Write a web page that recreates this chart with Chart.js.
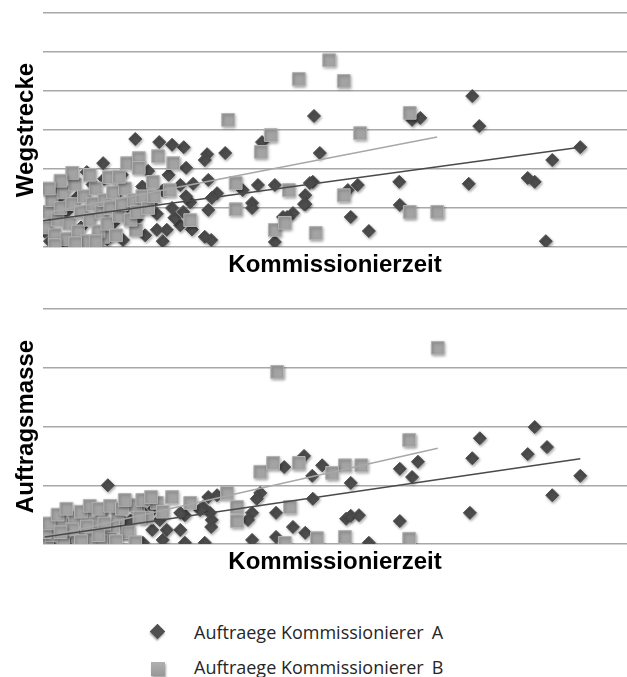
<!DOCTYPE html>
<html>
<head>
<meta charset="utf-8">
<script src="https://cdn.jsdelivr.net/npm/chart.js@4/dist/chart.umd.min.js"></script>
<style>
  html, body { margin: 0; padding: 0; background: #fff; }
  body { width: 627px; height: 677px; position: relative; overflow: hidden; }
  .box { position: absolute; left: 0; width: 627px; }
  #box1 { top: 0; height: 285px; }
  #box2 { top: 285px; height: 300px; }
  .leg { position: absolute; left: 0; width: 627px; height: 20px;
         font-family: "Open Sans", sans-serif; font-size: 18px; color: #262626; white-space: pre; }
  .leg span.txt { position: absolute; left: 194px; top: 50%; transform: translateY(-50%); }
  .leg span.last { margin-left: 8px; }
  .mk { position: absolute; box-shadow: 1px 1.5px 2px rgba(0,0,0,0.35); }
  .dia { width: 11px; height: 11px; background: #4f4f4f; left: 152px; top: 4px; transform: rotate(45deg); }
  .sq { width: 14px; height: 14px; background: linear-gradient(#b0b0b0, #979797); left: 151px; top: 5px; }
</style>
</head>
<body>
<div class="box" id="box1"><canvas id="chartTop" width="627" height="285"></canvas></div>
<div class="box" id="box2"><canvas id="chartBottom" width="627" height="300"></canvas></div>

<div class="leg" style="top:622px"><div class="mk dia"></div><span class="txt">Auftraege Kommissionierer<span class="last">A</span></span></div>
<div class="leg" style="top:657px"><div class="mk sq"></div><span class="txt">Auftraege Kommissionierer<span class="last">B</span></span></div>

<script>
// Kommissionierzeit (x) vs Wegstrecke (top) / Auftragsmasse (bottom)
const seriesNames = ['Auftraege Kommissionierer A', 'Auftraege Kommissionierer B'];

const topA = [
  [73.5,3.87],[74.7,3.10],[92.0,2.56],[87.2,2.23],[83.0,1.77],[84.2,1.67],[72.9,1.62],[86.1,0.15],
  [63.2,3.26],[64.6,3.31],[46.4,3.36],[47.4,2.41],[46.2,1.67],[61.0,1.67],[53.9,1.59],[52.2,1.46],
  [44.9,1.33],[44.9,1.10],[61.1,1.08],[52.7,0.77],[55.8,0.41],
  [37.5,2.69],[24.1,2.56],[28.1,2.38],[27.7,2.23],[31.2,2.41],[24.5,2.03],[23.5,1.59],[25.7,1.62],
  [28.3,1.72],[36.8,1.59],[39.7,1.59],[45.7,1.64],[34.2,1.46],[29.8,1.38],[28.9,1.26],[25.2,1.15],
  [28.3,0.95],[35.8,1.13],[35.8,1.00],[44.7,1.10],[42.8,0.87],[41.1,0.77],[41.8,0.77],[27.7,0.26],
  [28.8,0.18],[39.7,0.13],
  [15.8,2.77],[19.9,2.69],[22.1,2.62],[10.3,2.15],[7.5,1.92],[13.5,1.85],[0.9,1.41],[2.4,1.46],
  [13.7,0.18],[22.1,1.00],[19.5,0.44],[21.2,0.44],[23.5,0.56],
  [0.3,0.4],[1.2,0.15],[3.0,0.1],[5.0,0.08],[7.0,0.12],[9.0,0.1],[11.0,0.2],[1.5,0.8],[4.0,0.9],
  [6.0,1.3],[8.5,1.6],[10.5,1.75],[12.5,1.35],[14.5,1.05],[16.0,0.7],[17.0,1.55],[18.5,1.1],
  [19.5,0.85],[20.5,1.45],[21.5,1.85],[22.5,0.75],[24.5,1.3],[18.0,1.95],[12.0,0.6],[6.5,0.5],
  [3.0,1.3],[20.5,0.15],[17.5,0.3],[24.0,0.9],[25.5,0.45]
];
const topB = [
  [49.0,4.79],[43.8,4.31],[51.5,4.26],[31.7,3.26],[62.8,3.44],[39.0,2.87],[37.3,2.44],[54.3,2.92],
  [33.0,1.64],[42.1,1.46],[51.5,1.33],[33.0,0.97],[62.8,0.90],[67.5,0.90],[46.7,0.36],[39.7,0.44],
  [41.4,0.62],[25.2,0.69],[15.9,0.44],[10.3,0.26],[14.4,2.15],[16.4,2.28],[19.7,2.33],[22.3,2.15],
  [16.4,2.03],[18.8,1.67],[21.7,1.46],[11.3,1.79],
  [0.5,0.5],[1.0,0.9],[1.5,1.2],[2.0,0.3],[2.5,0.7],[3.0,1.0],[3.5,1.4],[4.0,0.2],[4.5,0.6],
  [5.0,1.1],[5.5,1.6],[6.0,0.4],[6.5,0.9],[7.0,1.3],[7.5,0.15],[8.0,0.7],[8.5,1.1],[9.0,1.5],
  [9.5,0.4],[10.0,0.9],[10.5,1.2],[11.0,0.6],[11.5,1.0],[12.0,1.4],[12.5,0.3],[13.0,0.8],
  [13.5,1.1],[14.0,1.5],[15.0,0.7],[15.5,1.2],[16.0,0.9],[17.0,1.3],[18.0,1.0],[19.0,1.3],
  [5.0,1.9],[8.0,1.85],[3.0,1.7],[1.0,1.5],[2.0,0.05],[5.5,0.1],[9.0,0.15],[13.0,1.8]
];
const bottomA = [
  [84.2,1.99],[86.3,1.65],[83.0,1.53],[74.8,1.80],[73.5,1.46],[92.0,1.16],[87.2,0.83],[73.1,0.53],
  [64.2,1.40],[61.1,1.28],[63.2,1.14],[52.7,1.04],[51.9,0.43],[52.7,0.48],[54.1,0.49],[61.1,0.39],
  [55.8,0.02],[44.7,1.50],[41.3,1.31],[47.8,1.34],[46.1,1.16],[46.2,0.77],[37.2,0.87],[36.6,0.77],
  [28.3,0.80],[29.8,0.83],[27.4,0.63],[28.6,0.53],[28.9,0.41],[28.8,0.29],[35.8,0.53],[35.1,0.41],
  [39.9,0.53],[42.8,0.29],[44.9,0.19],[39.9,0.12],[35.8,0.07],[27.7,0.02],[24.3,0.02],[23.5,0.24],
  [24.3,0.49],[11.1,1.00],[26.9,0.58],[23.5,0.53],[20.0,0.41],[21.2,0.24],[18.7,0.24],[17.1,0.02],
  [20.5,0.07],[16.1,0.63],
  [1.0,0.05],[3.0,0.1],[5.0,0.02],[8.0,0.05],[10.0,0.15],[12.0,0.1],[14.0,0.3],[15.0,0.4],
  [13.0,0.45],[9.0,0.3],[17.5,0.5],[19.0,0.6]
];
const bottomB = [
  [67.6,3.34],[40.1,2.93],[62.7,1.77],[51.7,1.34],[54.5,1.34],[49.5,1.21],[37.2,1.23],[39.4,1.38],
  [43.8,1.38],[42.3,0.63],[31.5,0.87],[33.2,0.63],[33.2,0.39],[25.2,0.70],[41.4,0.02],[46.9,0.10],
  [51.7,0.12],[62.7,0.09],[22.1,0.80],[19.5,0.70],[16.3,0.63],[14.4,0.19],
  [7.2,0.49],[10.1,0.53],[12.8,0.44],[15.8,0.66],[4.3,0.32],[2.1,0.24],[0.7,0.07],[6.0,0.12],
  [8.6,0.07],[11.1,0.12],[14.6,0.20],[15.8,0.03],[2.9,0.41],[5.5,0.45],[9.0,0.35],[1.5,0.15],
  [3.5,0.05],[12.0,0.3],[0.3,0.2],[17.8,0.45],
  [1.0,0.35],[2.5,0.5],[4.0,0.6],[5.0,0.25],[6.5,0.55],[7.5,0.3],[8.0,0.65],[9.5,0.6],
  [10.5,0.35],[11.5,0.65],[13.5,0.6],[14.0,0.75],[16.5,0.45],[17.0,0.75],[18.5,0.8],[20.5,0.55],
  [3.0,0.2],[6.5,0.05],[10.0,0.05],[12.5,0.05],[9.5,0.15]
];

// linear trend lines, start and end point
const topTrendA = [[0, 0.67], [92.0, 2.56]];
const topTrendB = [[0.3, 0.87], [67.5, 2.82]];
const bottomTrendA = [[0.3, 0.12], [92.0, 1.45]];
const bottomTrendB = [[0.3, 0.12], [67.6, 1.63]];

const xTitle = 'Kommissionierzeit';

function toXY(arr) {
    return arr.map(p => ({x: p[0], y: p[1]}));
}

// soft drop shadow under the markers only
const markerShadow = {
    id: 'markerShadow',
    beforeDatasetDraw(chart, args) {
        if (!chart.data.datasets[args.index].shadow) return;
        const ctx = chart.ctx;
        ctx.shadowColor = 'rgba(0,0,0,0.35)';
        ctx.shadowBlur = 3;
        ctx.shadowOffsetX = 1;
        ctx.shadowOffsetY = 1.5;
    },
    afterDatasetDraw(chart) {
        const ctx = chart.ctx;
        ctx.shadowColor = 'rgba(0,0,0,0)';
        ctx.shadowBlur = 0;
        ctx.shadowOffsetX = 0;
        ctx.shadowOffsetY = 0;
    }
};

function makeChart(id, dataA, dataB, trendA, trendB, yMax, yTitle, pad) {
    const ctx = document.getElementById(id).getContext('2d');
    return new Chart(ctx, {
        type: 'scatter',
        data: {
            datasets: [
                {
                    label: 'Trend A',
                    data: toXY(trendA),
                    showLine: true,
                    pointRadius: 0,
                    borderColor: '#4a4a4a',
                    borderWidth: 1.5,
                    order: 0
                },
                {
                    label: 'Trend B',
                    data: toXY(trendB),
                    showLine: true,
                    pointRadius: 0,
                    borderColor: '#a8a8a8',
                    borderWidth: 1.5,
                    order: 0
                },
                {
                    label: seriesNames[1],
                    data: toXY(dataB),
                    pointStyle: 'rect',
                    pointRadius: 9,
                    backgroundColor: '#a3a3a3',
                    borderColor: '#b3b3b3',
                    borderWidth: 1,
                    shadow: true,
                    order: 1
                },
                {
                    label: seriesNames[0],
                    data: toXY(dataA),
                    pointStyle: 'rectRot',
                    pointRadius: 6.5,
                    backgroundColor: '#4d4d4d',
                    borderColor: '#4d4d4d',
                    borderWidth: 1,
                    shadow: true,
                    order: 2
                }
            ]
        },
        options: {
            responsive: false,
            animation: false,
            layout: {padding: pad, autoPadding: false},
            plugins: {legend: {display: false}, tooltip: {enabled: false}},
            scales: {
                x: {
                    min: 0, max: 100,
                    grid: {display: false, drawTicks: false},
                    border: {display: false},
                    ticks: {display: false},
                    title: {
                        display: true, text: xTitle, color: '#000',
                        font: {family: '"Liberation Sans", Arial, sans-serif', size: 24, weight: 'bold'},
                        padding: {top: 4, bottom: 0}
                    }
                },
                y: {
                    min: 0, max: yMax,
                    ticks: {display: false, stepSize: 1},
                    grid: {color: '#a8a8a8', lineWidth: 1.5, drawTicks: false},
                    border: {display: false},
                    title: {
                        display: true, text: yTitle, color: '#000',
                        font: {family: '"Liberation Sans", Arial, sans-serif', size: 24, weight: 'bold'},
                        padding: {top: 12, bottom: 2.2}
                    }
                }
            }
        },
        plugins: [markerShadow]
    });
}

makeChart('chartTop', topA, topB, topTrendA, topTrendB, 6, 'Wegstrecke',
    {top: 13, bottom: 5.2, left: 0, right: 0});
makeChart('chartBottom', bottomA, bottomB, bottomTrendA, bottomTrendB, 4, 'Auftragsmasse',
    {top: 24, bottom: 8.2, left: 0, right: 0});
</script>
</body>
</html>
